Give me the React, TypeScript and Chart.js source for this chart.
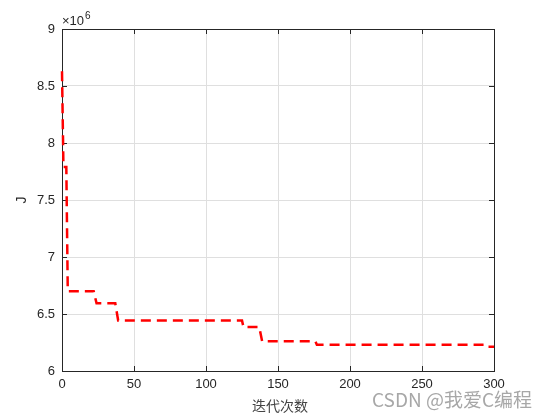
import React, { useEffect, useRef } from "react";
import { Chart, registerables } from "chart.js";

Chart.register(...registerables);

const iterations = [0, 1, 3, 4, 22, 24, 37, 39, 125, 126, 137, 139, 176, 177, 293, 294, 300];
const costJ = [8.63, 7.79, 7.79, 6.70, 6.70, 6.594, 6.594, 6.444, 6.444, 6.386, 6.386, 6.26, 6.26, 6.231, 6.231, 6.213, 6.213];
const xTicks = [0, 50, 100, 150, 200, 250, 300];
const yTicks = [6, 6.5, 7, 7.5, 8, 8.5, 9];
const xTitle = "迭代次数";
const yTitle = "J";
const exponentText = "×10";
const exponentPower = "6";
const watermark = "CSDN @我爱C编程";

const FONT = "'Liberation Sans', Arial, Helvetica, sans-serif";

const framePlugin = {
  id: "matlabFrame",
  beforeDatasetsDraw(chart: any) {
    const { ctx, chartArea } = chart;
    const { left, right, top, bottom } = chartArea;
    const xs = chart.scales.x;
    const ys = chart.scales.y;
    ctx.save();
    ctx.strokeStyle = "#262626";
    ctx.lineWidth = 1;
    ctx.beginPath();
    xTicks.forEach((t) => {
      const px = Math.round(xs.getPixelForValue(t)) + 0.5;
      ctx.moveTo(px, bottom);
      ctx.lineTo(px, bottom - 5);
      ctx.moveTo(px, top);
      ctx.lineTo(px, top + 5);
    });
    yTicks.forEach((t) => {
      const py = Math.round(ys.getPixelForValue(t)) + 0.5;
      ctx.moveTo(left, py);
      ctx.lineTo(left + 5, py);
      ctx.moveTo(right, py);
      ctx.lineTo(right - 5, py);
    });
    ctx.stroke();
    ctx.strokeRect(Math.round(left) + 0.5, Math.round(top) + 0.5, Math.round(right - left), Math.round(bottom - top));
    ctx.restore();
  },
  afterDraw(chart: any) {
    const { ctx, chartArea } = chart;
    const { top, bottom } = chartArea;
    ctx.save();
    ctx.fillStyle = "#262626";
    ctx.textBaseline = "alphabetic";
    ctx.textAlign = "left";
    ctx.font = `13px ${FONT}`;
    ctx.fillText(exponentText, 62, 25);
    const w = ctx.measureText(exponentText).width;
    ctx.font = `10px ${FONT}`;
    ctx.fillText(exponentPower, 62 + w + 1, 19);

    ctx.font = `14px 'Noto Sans CJK SC', sans-serif`;
    ctx.textAlign = "center";
    ctx.textBaseline = "middle";
    ctx.fillStyle = "#444444";
    ctx.fillText(xTitle, 280, 406);
    ctx.save();
    ctx.translate(22, (top + bottom) / 2);
    ctx.rotate(-Math.PI / 2);
    ctx.font = `14px ${FONT}`;
    ctx.fillStyle = "#262626";
    ctx.fillText(yTitle, 0, 0);
    ctx.restore();

    ctx.font = `19px 'Noto Sans CJK SC', sans-serif`;
    ctx.textAlign = "left";
    ctx.textBaseline = "middle";
    ctx.fillStyle = "rgba(130,130,130,0.7)";
    ctx.fillText(watermark, 372, 400);
    ctx.restore();
  },
};

export default function App() {
  const ref = useRef<HTMLCanvasElement>(null);
  useEffect(() => {
    if (!ref.current) return;
    const chart = new Chart(ref.current, {
      type: "line",
      data: {
        datasets: [
          {
            data: iterations.map((x, i) => ({ x, y: costJ[i] })),
            borderColor: "#ff0000",
            borderWidth: 2.5,
            borderDash: [10, 6],
            pointRadius: 0,
            tension: 0,
            fill: false,
            clip: false,
          },
        ],
      },
      options: {
        responsive: false,
        animation: false,
        layout: { padding: { left: 0, top: 29, right: 53, bottom: 0 } },
        plugins: { legend: { display: false }, tooltip: { enabled: false } },
        scales: {
          x: {
            type: "linear",
            min: 0,
            max: 300,
            afterBuildTicks: (s: any) => {
              s.ticks = xTicks.map((v) => ({ value: v }));
            },
            afterFit: (s: any) => {
              s.height = 46;
            },
            grid: { color: "#dfdfdf", drawTicks: false, lineWidth: 1 },
            border: { display: false },
            ticks: {
              padding: 6,
              color: "#262626",
              font: { size: 13, family: FONT },
              maxRotation: 0,
              callback: (v: any) => String(v),
            },
          },
          y: {
            type: "linear",
            min: 6,
            max: 9,
            afterBuildTicks: (s: any) => {
              s.ticks = yTicks.map((v) => ({ value: v }));
            },
            afterFit: (s: any) => {
              s.width = 62;
            },
            grid: { color: "#dfdfdf", drawTicks: false, lineWidth: 1 },
            border: { display: false },
            ticks: {
              padding: 7,
              color: "#262626",
              font: { size: 13, family: FONT },
              callback: (v: any) => String(v),
            },
          },
        },
      },
      plugins: [framePlugin],
    } as any);
    return () => chart.destroy();
  }, []);
  return (
    <div style={{ position: "fixed", left: 0, top: 0, width: 547, height: 417, background: "#fff" }}>
      <canvas ref={ref} width={547} height={417} style={{ width: 547, height: 417, display: "block" }} />
    </div>
  );
}
